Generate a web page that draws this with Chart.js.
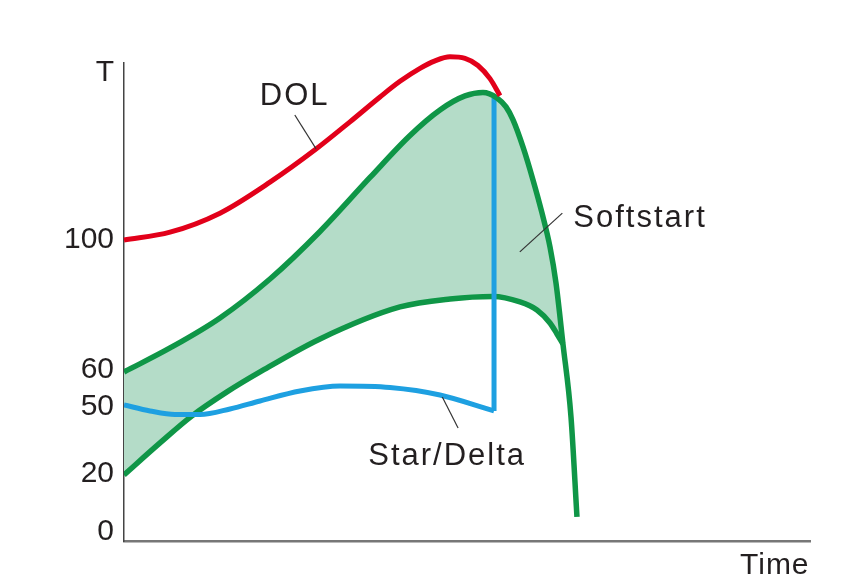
<!DOCTYPE html>
<html><head><meta charset="utf-8">
<script src="https://cdn.jsdelivr.net/npm/chart.js@4/dist/chart.umd.min.js"></script>
<style>html,body{margin:0;padding:0;background:#fff;}</style>
</head><body>
<canvas id="c" width="867" height="575"></canvas>
<script>
// Y axis: schematic torque axis, tick labels placed at their drawn heights
const tickPositions = [0, 20, 42.8, 55.5, 100, 157.2];
const tickLabels = ['0', '20', '50', '60', '100', 'T'];
const xTitle = 'Time';

// DOL (direct on line)
const dolTime   = [0, 0.671, 1.399, 2.128, 2.799, 3.294, 3.732, 4.023, 4.315, 4.534, 4.752, 4.971, 5.160, 5.335, 5.481];
const dolTorque = [100, 102.67, 109.18, 119.79, 131.13, 140.45, 148.97, 154.32, 158.77, 161.34, 162.71, 162.19, 159.76, 155.24, 149.42];

// Softstart upper limit
const softUpperTime   = [0, 0.671, 1.399, 2.128, 2.857, 3.586, 4.169, 4.606, 4.971, 5.233, 5.437, 5.569, 5.671, 5.816, 5.962, 6.093, 6.210, 6.297, 6.399, 6.516, 6.603];
const softUpperTorque = [54.79, 63.01, 73.29, 86.64, 102.91, 121.40, 135.79, 144.52, 149.32, 150.51, 148.63, 145.55, 141.10, 131.85, 120.55, 109.25, 97.60, 85.27, 64.38, 39.38, 5.14];

// Softstart lower limit
const softLowerTime   = [0, 0.525, 0.991, 1.501, 1.983, 2.857, 4.023, 4.752, 5.379, 5.773, 6.020, 6.210, 6.312, 6.399];
const softLowerTorque = [19.52, 30.48, 39.73, 47.95, 54.79, 66.10, 77.05, 79.79, 80.65, 78.77, 76.03, 71.58, 67.81, 64.38];

// Star/Delta
const starDeltaTime   = [0, 0.379, 0.743, 1.108, 1.545, 1.983, 2.566, 3.149, 3.878, 4.606, 5.394];
const starDeltaTorque = [43.49, 41.44, 40.24, 40.24, 42.12, 44.86, 48.29, 50.0, 49.49, 46.92, 41.44];
// Star -> Delta switch-over
const switchTime   = [5.394, 5.394];
const switchTorque = [41.44, 148.6];

// Curve labels with leader lines (in data units)
const labelTexts      = ['DOL', 'Softstart', 'Star/Delta'];
const labelTime       = [1.98, 6.55, 3.56];
const labelTorque     = [146.2, 104.5, 22.9];
const leaderFromTime  = [2.49, 6.39, 4.64];
const leaderFromTorque= [142.8, 109.2, 46.2];
const leaderToTime    = [2.80, 5.77, 4.87];
const leaderToTorque  = [131.2, 95.9, 35.6];

const pts = (xs, ys) => xs.map((v, i) => ({x: v, y: ys[i]}));
const FONT = "'Liberation Sans', Arial, Helvetica, sans-serif";
const RED = '#e2001a', GREEN = '#0f9647', BLUE = '#1ea0e1', FILL = 'rgb(180,220,200)';

const annot = {
  id: 'annot',
  afterDatasetsDraw(chart) {
    const {ctx, scales: {x, y}} = chart;
    ctx.save();
    ctx.strokeStyle = '#333';
    ctx.lineWidth = 1.2;
    for (let i = 0; i < labelTexts.length; i++) {
      ctx.beginPath();
      ctx.moveTo(x.getPixelForValue(leaderFromTime[i]), y.getPixelForValue(leaderFromTorque[i]));
      ctx.lineTo(x.getPixelForValue(leaderToTime[i]), y.getPixelForValue(leaderToTorque[i]));
      ctx.stroke();
    }
    ctx.fillStyle = '#231f20';
    ctx.textAlign = 'left';
    ctx.textBaseline = 'alphabetic';
    ctx.font = '31px ' + FONT;
    try { ctx.letterSpacing = '2px'; } catch (e) {}
    for (let i = 0; i < labelTexts.length; i++) {
      ctx.fillText(labelTexts[i], x.getPixelForValue(labelTime[i]), y.getPixelForValue(labelTorque[i]));
    }
    ctx.font = '30px ' + FONT;
    try { ctx.letterSpacing = '1px'; } catch (e) {}
    ctx.fillText(xTitle, x.right - 70, x.top + 33);
    ctx.restore();
  }
};

new Chart(document.getElementById('c'), {
  type: 'line',
  data: {
    datasets: [
      { label: 'Softstart upper', data: pts(softUpperTime, softUpperTorque), borderColor: GREEN, borderWidth: 5.5,
        backgroundColor: FILL, fill: '+1', order: 1 },
      { label: 'Softstart lower', data: pts(softLowerTime, softLowerTorque), borderColor: GREEN, borderWidth: 5.5,
        fill: false, order: 3 },
      { label: 'Star/Delta', data: pts(starDeltaTime, starDeltaTorque), borderColor: BLUE, borderWidth: 5,
        fill: false, order: 2 },
      { label: 'Switch', data: pts(switchTime, switchTorque), borderColor: BLUE, borderWidth: 5,
        fill: false, tension: 0, cubicInterpolationMode: 'default', order: 2 },
      { label: 'DOL', data: pts(dolTime, dolTorque), borderColor: RED, borderWidth: 5,
        fill: false, order: 0, clip: false }
    ]
  },
  plugins: [annot],
  options: {
    responsive: false,
    animation: false,
    devicePixelRatio: 1,
    layout: { padding: { top: 63, right: 57, bottom: 0, left: 0 } },
    elements: { point: { radius: 0, hoverRadius: 0 }, line: { tension: 0.4, cubicInterpolationMode: 'monotone' } },
    plugins: {
      legend: { display: false },
      tooltip: { enabled: false },
      filler: { drawTime: 'beforeDatasetsDraw' }
    },
    scales: {
      x: {
        type: 'linear', min: 0, max: 10,
        grid: { display: false, drawTicks: false },
        ticks: { display: false },
        border: { display: true, color: '#777', width: 2.5 },
        afterFit: s => { s.height = 34; }
      },
      y: {
        type: 'linear', min: -3.1, max: 160.6,
        grid: { display: false, drawTicks: false },
        border: { display: true, color: '#444', width: 1.5 },
        afterBuildTicks: s => { s.ticks = tickPositions.map(v => ({ value: v })); },
        afterFit: s => { s.width = 124; },
        ticks: {
          autoSkip: false, padding: 10, color: '#231f20',
          font: { family: FONT, size: 30 },
          callback: v => { const i = tickPositions.indexOf(v); return i >= 0 ? tickLabels[i] : ''; }
        }
      }
    }
  }
});
</script>
</body></html>
